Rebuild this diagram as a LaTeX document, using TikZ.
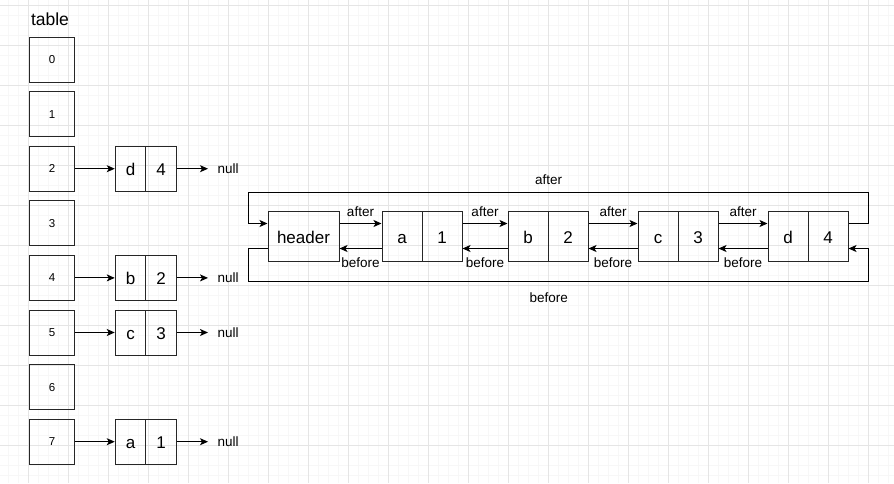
\documentclass[tikz,border=0pt]{standalone}
\usepackage{fontspec}
\setmainfont{Liberation Sans}
\usetikzlibrary{arrows.meta}
\tikzset{
  slot/.style={draw=black!85, line width=1pt, minimum width=45pt, minimum height=45pt, inner sep=0pt, font=\fontsize{11.5}{12}\selectfont},
  cell/.style={draw=black!85, line width=1pt, minimum width=30.5pt, minimum height=45pt, inner sep=0pt, text height=14pt, text depth=0pt, font=\fontsize{17}{18}\selectfont},
  lcell/.style={cell, minimum width=40pt, minimum height=50pt},
  lbl/.style={inner sep=0pt, font=\fontsize{13.5}{14}\selectfont},
  nil/.style={lbl, inner xsep=9pt, anchor=west},
}
\begin{document}
\begin{tikzpicture}[x=1pt,y=-1pt,line width=1pt,>={Stealth[length=8pt,width=7pt,inset=2pt]}]
			\useasboundingbox (0,0) rectangle (894,483);
			\fill[white] (0,0) rectangle (894,483);
			\foreach \x in {8,18,...,888} \draw[gray!6,line width=0.6pt] (\x,0) -- (\x,483);
			\foreach \y in {5,15,...,475} \draw[gray!6,line width=0.6pt] (0,\y) -- (894,\y);
			\foreach \x in {28,68,...,868} \draw[gray!20,line width=0.8pt] (\x,0) -- (\x,483);
			\foreach \y in {5,45,...,445} \draw[gray!20,line width=0.8pt] (0,\y) -- (894,\y);
%			table
			\node[font=\fontsize{17.5}{18}\selectfont] (title) at (50,19) {table};
			\foreach \i in {0,...,7}
				\node[slot] (t\i) at (52,{59.5+54.6*\i}) {\i};
			\foreach \i/\k/\v in {2/d/4,4/b/2,5/c/3,7/a/1} {
				\node[cell] (k\i) at (130.5,{59.5+54.6*\i}) {\k};
				\node[cell] (v\i) at (161,{59.5+54.6*\i}) {\v};
				\node[nil] (n\i) at (208,{59.5+54.6*\i}) {null};
				\draw[->] (t\i) -- (k\i);
				\draw[->] (v\i) -- (n\i);
			}
%			linked list
			\node[lcell,minimum width=71pt] (hdr) at (303.5,236) {header};
			\foreach \n/\k/\v/\x in {a/a/1/402,b/b/2/528,c/c/3/658,d/d/4/788} {
				\node[lcell] (k\n) at (\x,236) {\k};
				\node[lcell] (v\n) at (\x+40,236) {\v};
			}
			\foreach \s/\t in {hdr/ka,va/kb,vb/kc,vc/kd} {
				\draw[->] ([yshift=12.5pt]\s.east) -- node[lbl,above=6pt] {after} ([yshift=12.5pt]\t.west);
				\draw[<-] ([yshift=-12.5pt]\s.east) -- node[lbl,below=8.5pt] {before} ([yshift=-12.5pt]\t.west);
			}
			\coordinate (topL) at (248,192);
			\coordinate (topR) at (868,192);
			\coordinate (botL) at (248,281);
			\coordinate (botR) at (868,281);
			\draw[->] ([yshift=12.5pt]vd.east) -| (topR) -- node[lbl,above=7pt,pos=0.515] {after} (topL) |- ([yshift=12.5pt]hdr.west);
			\draw[->] ([yshift=-12.5pt]hdr.west) -| (botL) -- node[lbl,below=11pt,pos=0.485] {before} (botR) |- ([yshift=-12.5pt]vd.east);
		\end{tikzpicture}
\end{document}
